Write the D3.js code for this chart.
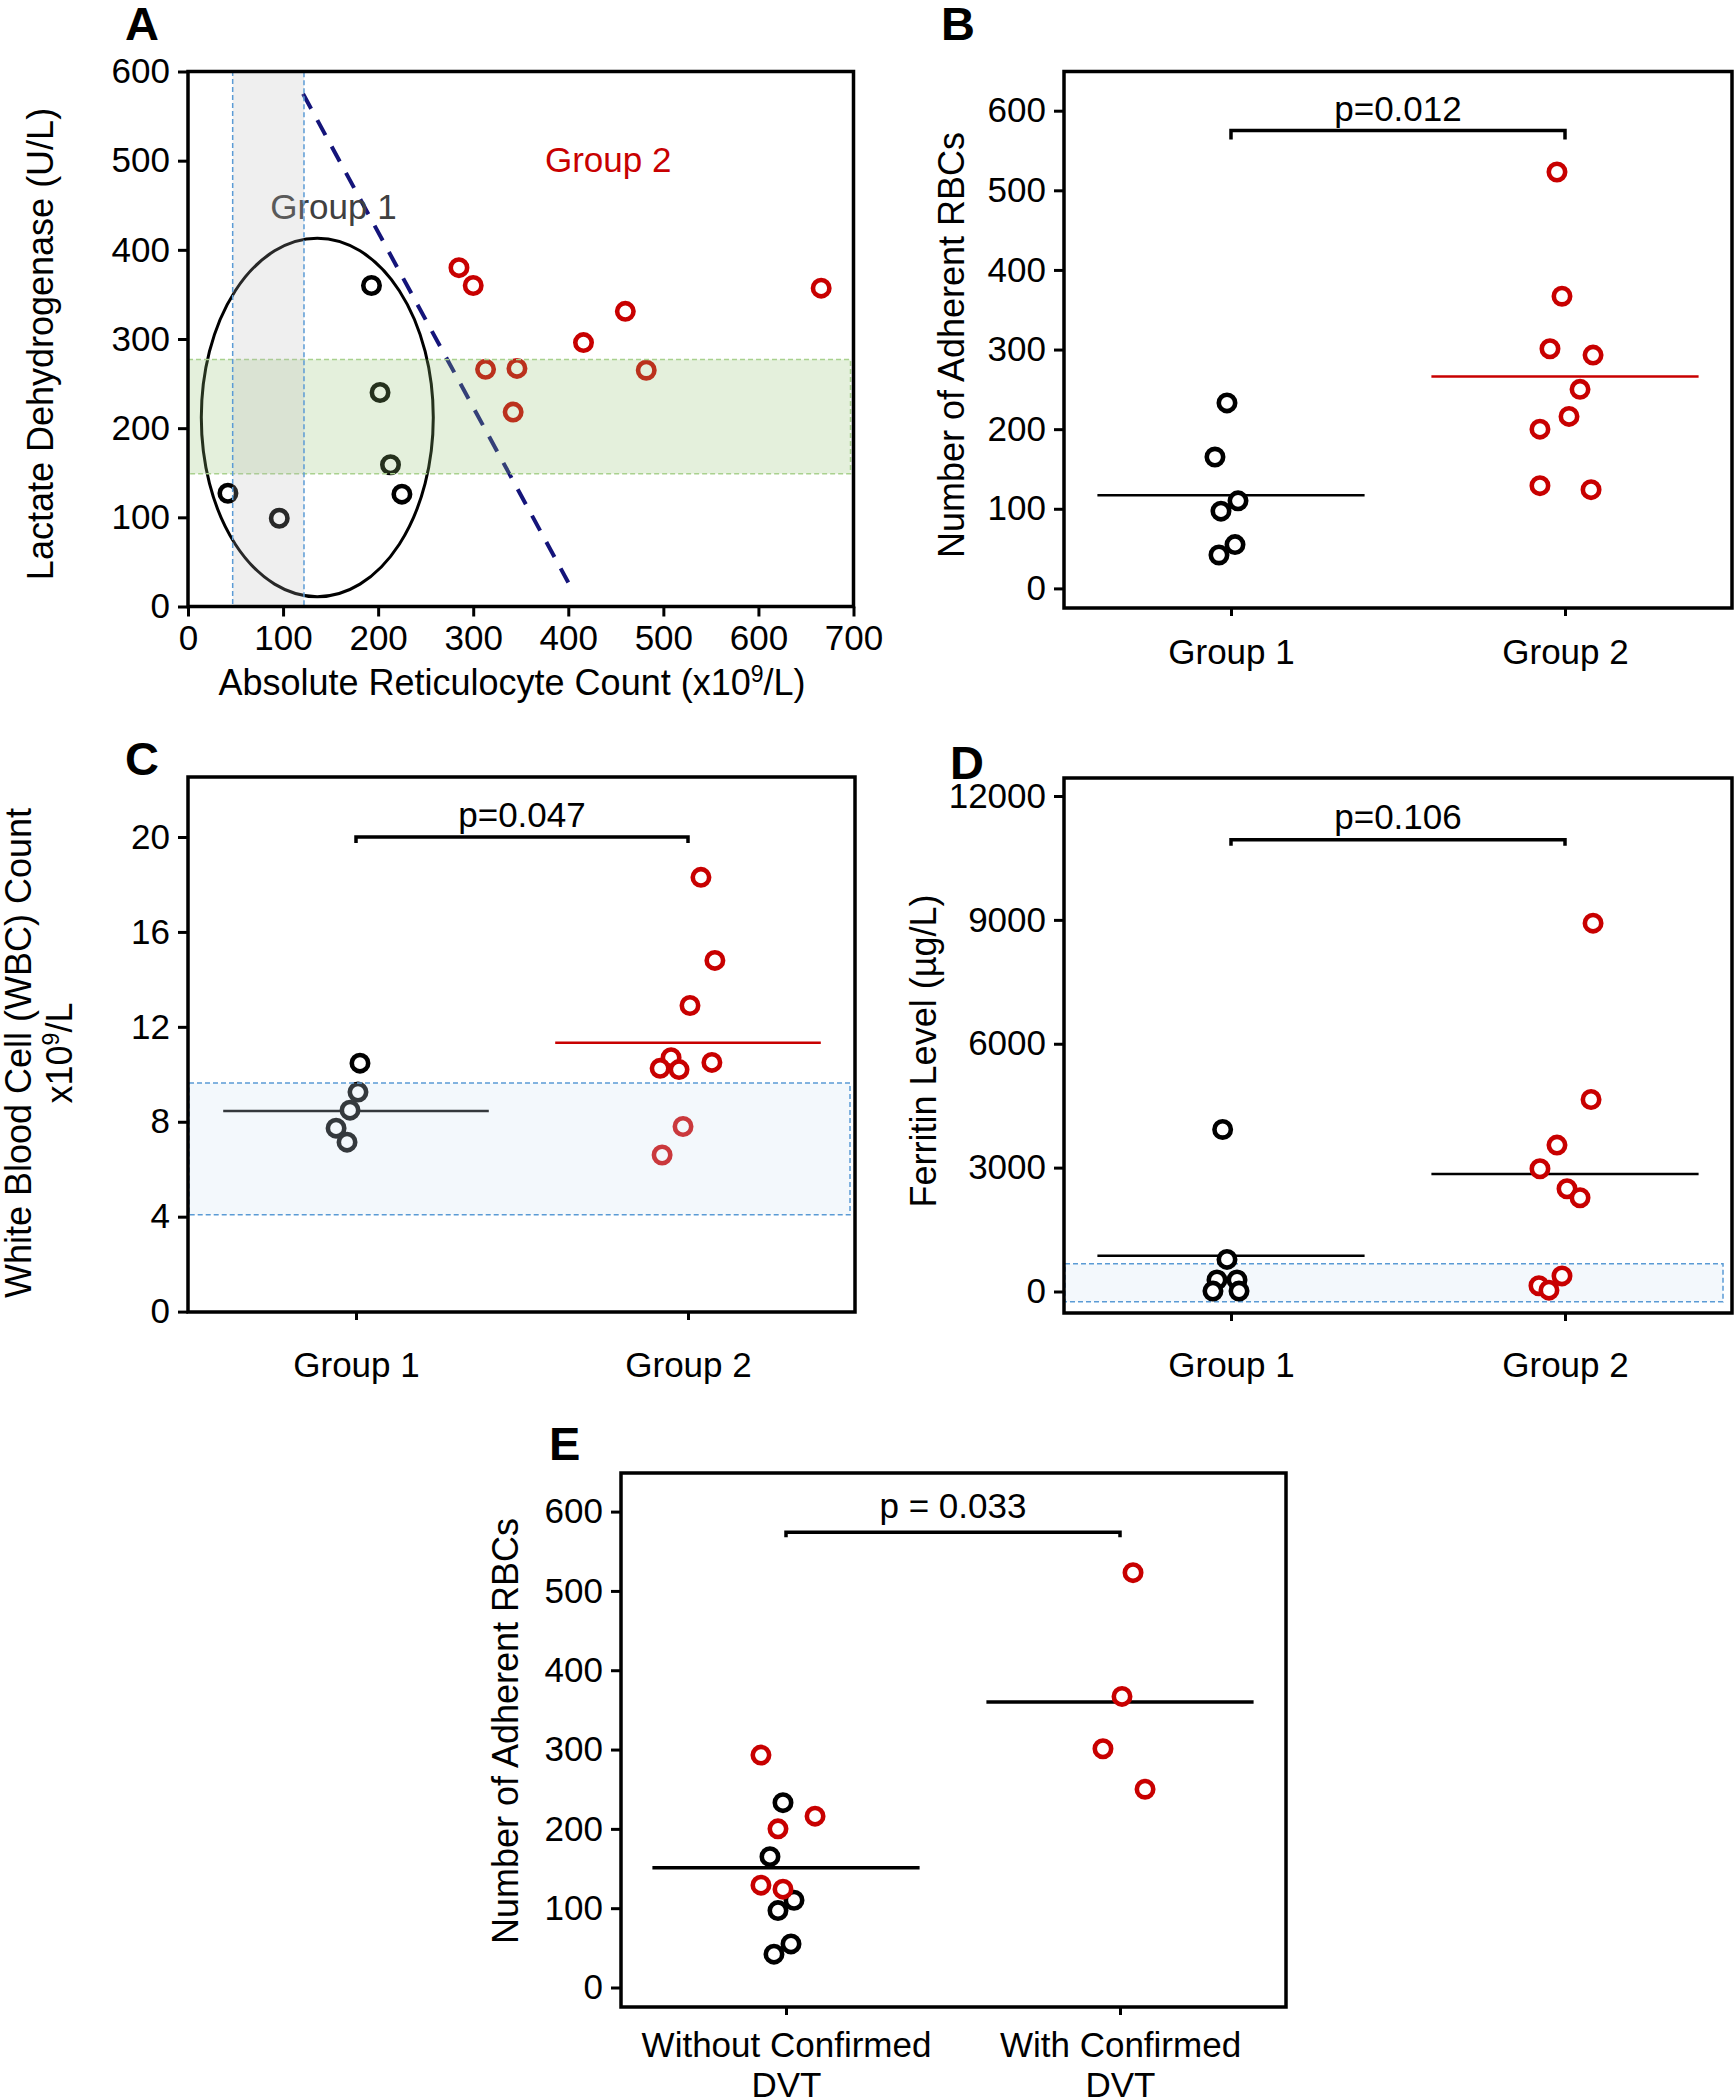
<!DOCTYPE html>
<html>
<head>
<meta charset="utf-8">
<script src="https://cdn.jsdelivr.net/npm/d3@7"></script>
<style>
  body { margin: 0; background: #fff; }
  text { font-family: "Liberation Sans", Arial, sans-serif; }
</style>
</head>
<body>
<svg id="fig"></svg>
<script>
// ---------- data ----------
// A: reticulocytes vs LDH
var aRetic1 = [42, 96, 193, 202, 213, 225];
var aLdh1 = [127, 99, 360, 240, 159, 126];
var aRetic2 = [285, 300, 313, 346, 342, 416, 460, 482, 666];
var aLdh2 = [380, 360, 266, 267, 218, 296, 331, 265, 357];
var aXTicks = [0, 100, 200, 300, 400, 500, 600, 700];
var aYTicks = [0, 100, 200, 300, 400, 500, 600];
var aReticRef = [47, 122];
var aLdhRef = [149, 277];
var aEllipse = [136, 212, 122, 201];          // cx, cy, rx, ry (data units)
var aCutoff = [[121, 575], [400, 27]];

var groups = ["Group 1", "Group 2"];

// B: adherent RBCs
var bAdh1 = [233, 165, 110, 97, 55, 42];
var bAdh1Jit = [-0.012, -0.048, 0.021, -0.03, 0.012, -0.036];
var bAdh2 = [523, 367, 301, 293, 250, 216, 200, 129, 124];
var bAdh2Jit = [-0.024, -0.009, -0.045, 0.084, 0.045, 0.012, -0.075, -0.075, 0.078];
var bMeans = [117, 266];
var bYTicks = [0, 100, 200, 300, 400, 500, 600];

// C: WBC
var cWbc1 = [10.47, 9.25, 8.49, 7.73, 7.14];
var cWbc1Jit = [0.012, 0.006, -0.018, -0.06, -0.027];
var cWbc2 = [18.3, 14.8, 12.9, 10.5, 10.7, 10.25, 10.2, 7.8, 6.6];
var cWbc2Jit = [0.039, 0.081, 0.006, 0.072, -0.051, -0.084, -0.027, -0.015, -0.078];
var cMeans = [8.45, 11.33];
var cYTicks = [0, 4, 8, 12, 16, 20];
var cRef = [4.08, 9.63];

// D: ferritin
var dFer1 = [3924, 778, 280, 280, 10, 10];
var dFer1Jit = [-0.025, -0.012, -0.042, 0.018, -0.054, 0.024];
var dFer2 = [8920, 4650, 3546, 2973, 2488, 2270, 378, 140, 32];
var dFer2Jit = [0.084, 0.078, -0.024, -0.075, 0.006, 0.045, -0.009, -0.078, -0.048];
var dMeans = [865, 2845];
var dYTicks = [0, 3000, 6000, 9000, 12000];
var dRef = [-250, 671];

// E: DVT
var eCats = [["Without Confirmed", "DVT"], ["With Confirmed", "DVT"]];
var eNoDvtG1 = [233, 165, 110, 97, 55, 42];
var eNoDvtG1Jit = [-0.009, -0.048, 0.024, -0.024, 0.015, -0.036];
var eNoDvtG2 = [293, 200, 216, 129, 124];
var eNoDvtG2Jit = [-0.075, -0.024, 0.087, -0.075, -0.009];
var eDvtG2 = [523, 367, 301, 250];
var eDvtG2Jit = [0.039, 0.006, -0.051, 0.075];
var eMeans = [151, 360];
var eYTicks = [0, 100, 200, 300, 400, 500, 600];

// ---------- drawing ----------
var RED = "#c80000";
var TICK_FS = 35, TITLE_FS = 36;
var svg = d3.select("#fig").attr("width", 1734).attr("height", 2100);
svg.append("rect").attr("width", 1734).attr("height", 2100).attr("fill", "#fff");

var styleAxis = function (g) {
    g.select(".domain").remove();
    g.selectAll(".tick line").attr("stroke", "#000").attr("stroke-width", 3);
    g.selectAll(".tick text").attr("font-size", TICK_FS).attr("fill", "#000")
        .style("font-family", '"Liberation Sans", Arial, sans-serif');
};

var letter = function (t, x, y) {
    svg.append("text").attr("x", x).attr("y", y).attr("font-size", 47)
        .attr("font-weight", "bold").text(t);
};

var yTitle = function (lines, bx, cy) {
    lines.forEach(function (ln, i) {
        var t = svg.append("text")
            .attr("transform", "translate(" + bx[i] + "," + cy + ") rotate(-90)")
            .attr("text-anchor", "middle").attr("font-size", TITLE_FS);
        ln.forEach(function (part) {
            var s = t.append("tspan").text(part[0]);
            if (part[1]) s.attr("baseline-shift", "super").attr("font-size", 23);
        });
    });
};

var frame = function (L, T, R, B) {
    svg.append("rect").attr("x", L).attr("y", T).attr("width", R - L).attr("height", B - T)
        .attr("fill", "none").attr("stroke", "#000").attr("stroke-width", 3.5);
};

var dot = function (sel, color) {
    sel.attr("r", 8.2).attr("fill", "#fff").attr("stroke", color).attr("stroke-width", 4.6);
};

// ---- Panel A ----
(function () {
    var L = 188, R = 853.5, T = 71.5, B = 606.5;
    var x = d3.scaleLinear().domain([0, 700]).range([L, R]);
    var y = d3.scaleLinear().domain([0, 600]).range([B, T]);
    var g = svg.append("g");

    g.append("ellipse")
        .attr("cx", x(aEllipse[0])).attr("cy", y(aEllipse[1]))
        .attr("rx", x(aEllipse[0] + aEllipse[2]) - x(aEllipse[0]))
        .attr("ry", y(aEllipse[1] - aEllipse[3]) - y(aEllipse[1]))
        .attr("fill", "none").attr("stroke", "#000").attr("stroke-width", 3);

    g.append("line")
        .attr("x1", x(aCutoff[0][0])).attr("y1", y(aCutoff[0][1]))
        .attr("x2", x(aCutoff[1][0])).attr("y2", y(aCutoff[1][1]))
        .attr("stroke", "#14147a").attr("stroke-width", 4).attr("stroke-dasharray", "17 13");

    g.selectAll(".p1").data(aRetic1).enter().append("circle")
        .attr("cx", function (d) { return x(d); })
        .attr("cy", function (d, i) { return y(aLdh1[i]); })
        .call(dot, "#000");
    g.selectAll(".p2").data(aRetic2).enter().append("circle")
        .attr("cx", function (d) { return x(d); })
        .attr("cy", function (d, i) { return y(aLdh2[i]); })
        .call(dot, RED);

    g.append("text").attr("x", x(153)).attr("y", y(435)).attr("text-anchor", "middle")
        .attr("font-size", TICK_FS).attr("fill", "#404040").text("Group 1");
    g.append("text").attr("x", x(442)).attr("y", y(487)).attr("text-anchor", "middle")
        .attr("font-size", TICK_FS).attr("fill", RED).text("Group 2");

    // reference ranges (semi-transparent overlays)
    g.append("rect").attr("x", L).attr("width", R - L - 3)
        .attr("y", y(aLdhRef[1])).attr("height", y(aLdhRef[0]) - y(aLdhRef[1]))
        .attr("fill", "#93c373").attr("fill-opacity", 0.25)
        .attr("stroke", "#a9d18e").attr("stroke-width", 1.5).attr("stroke-dasharray", "5 3");
    g.append("rect").attr("x", x(aReticRef[0])).attr("width", x(aReticRef[1]) - x(aReticRef[0]))
        .attr("y", T).attr("height", B - T)
        .attr("fill", "#b8b8b8").attr("fill-opacity", 0.22)
        .attr("stroke", "#5b9bd5").attr("stroke-width", 1.5).attr("stroke-dasharray", "5 3");

    svg.append("g").attr("transform", "translate(0," + B + ")")
        .call(d3.axisBottom(x).tickValues(aXTicks).tickSize(10).tickPadding(9))
        .call(styleAxis);
    svg.append("g").attr("transform", "translate(" + L + ",0)")
        .call(d3.axisLeft(y).tickValues(aYTicks).tickSize(10).tickPadding(8))
        .call(styleAxis);
    frame(L, T, R, B);

    svg.append("text").attr("x", 512).attr("y", 695).attr("text-anchor", "middle")
        .attr("font-size", TITLE_FS)
        .call(function (t) {
            t.append("tspan").text("Absolute Reticulocyte Count (x10");
            t.append("tspan").attr("baseline-shift", "super").attr("font-size", 23).text("9");
            t.append("tspan").text("/L)");
        });
    yTitle([[["Lactate Dehydrogenase (U/L)"]]], [53], 344);
    letter("A", 125, 40);
})();

// ---- dot-plot panels ----
var dotPanel = function (p) {
    var y = d3.scaleLinear().domain([0, p.yTicks[p.yTicks.length - 1]]).range(p.yRange);
    var x = d3.scaleLinear().domain([0, 1]).range(p.xRange);
    var g = svg.append("g");

    var band = function () {
        g.append("rect").attr("x", p.frame[0] + 1).attr("width", p.frame[2] - p.frame[0] - p.bandInset)
            .attr("y", y(p.band[1])).attr("height", y(p.band[0]) - y(p.band[1]))
            .attr("fill", "#cfe3f3").attr("fill-opacity", 0.25)
            .attr("stroke", "#5b9bd5").attr("stroke-width", 1.5).attr("stroke-dasharray", "5 3");
    };
    if (p.band && !p.bandOnTop) band();

    p.means.forEach(function (m, i) {
        g.append("line").attr("x1", x(i - 0.4)).attr("x2", x(i + 0.4))
            .attr("y1", y(m)).attr("y2", y(m))
            .attr("stroke", p.meanColors[i]).attr("stroke-width", p.meanWidth);
    });

    p.series.forEach(function (s) {
        g.selectAll(null).data(s.values).enter().append("circle")
            .attr("cx", function (d, i) { return x(s.cat + s.jitter[i]); })
            .attr("cy", function (d) { return y(d); })
            .call(dot, s.color);
    });

    if (p.band && p.bandOnTop) band();

    var ax = svg.append("g").attr("transform", "translate(0," + p.frame[3] + ")")
        .call(d3.axisBottom(x).tickValues([0, 1]).tickSize(8).tickPadding(p.xPad)
            .tickFormat(function (d) { return p.cats[d][0]; }))
        .call(styleAxis);
    ax.selectAll(".tick text").each(function (d) {
        var t = d3.select(this);
        t.text(null);
        p.cats[d].forEach(function (ln, k) {
            t.append("tspan").attr("x", 0).attr("dy", k ? "1.15em" : "0.71em").text(ln);
        });
    });
    svg.append("g").attr("transform", "translate(" + p.frame[0] + ",0)")
        .call(d3.axisLeft(y).tickValues(p.yTicks).tickSize(10).tickPadding(8).tickFormat(d3.format("d")))
        .call(styleAxis);
    frame(p.frame[0], p.frame[1], p.frame[2], p.frame[3]);

    // significance bracket
    var by = y(p.bracket[0]);
    svg.append("path")
        .attr("d", "M" + x(0) + "," + (by + p.bracket[2]) + "V" + by + "H" + x(1) + "V" + (by + p.bracket[2]))
        .attr("fill", "none").attr("stroke", "#000").attr("stroke-width", 3.5);
    svg.append("text").attr("x", (x(0) + x(1)) / 2).attr("y", by - p.bracket[3])
        .attr("text-anchor", "middle").attr("font-size", TICK_FS).text(p.bracket[1]);

    yTitle(p.title, p.titleX, p.titleY);
    letter(p.letter[0], p.letter[1], p.letter[2]);
};

dotPanel({
    frame: [1064, 71.5, 1732, 608], yRange: [588.4, 110.7], xRange: [1231, 1565],
    yTicks: bYTicks, cats: [[groups[0]], [groups[1]]], xPad: 23,
    means: bMeans, meanColors: ["#000", RED], meanWidth: 2.5,
    series: [
        { values: bAdh1, jitter: bAdh1Jit, cat: 0, color: "#000" },
        { values: bAdh2, jitter: bAdh2Jit, cat: 1, color: RED }
    ],
    bracket: [575, "p=0.012", 9, 10],
    title: [[["Number of Adherent RBCs"]]], titleX: [964], titleY: 345,
    letter: ["B", 941, 40]
});

dotPanel({
    frame: [188, 777, 855, 1312], yRange: [1311.6, 837], xRange: [356, 688],
    yTicks: cYTicks, cats: [[groups[0]], [groups[1]]], xPad: 32,
    means: cMeans, meanColors: ["#000", RED], meanWidth: 2.5,
    series: [
        { values: cWbc1, jitter: cWbc1Jit, cat: 0, color: "#000" },
        { values: cWbc2, jitter: cWbc2Jit, cat: 1, color: RED }
    ],
    band: cRef, bandInset: 6, bandOnTop: true,
    bracket: [20, "p=0.047", 6, 10],
    title: [[["White Blood Cell (WBC) Count"]], [["x10"], ["9", true], ["/L"]]],
    titleX: [31, 72], titleY: 1053,
    letter: ["C", 125, 775]
});

dotPanel({
    frame: [1064, 778, 1732, 1313], yRange: [1291.5, 796], xRange: [1231, 1565],
    yTicks: dYTicks, cats: [[groups[0]], [groups[1]]], xPad: 31,
    means: dMeans, meanColors: ["#000", "#000"], meanWidth: 2.5,
    series: [
        { values: dFer1, jitter: dFer1Jit, cat: 0, color: "#000" },
        { values: dFer2, jitter: dFer2Jit, cat: 1, color: RED }
    ],
    band: dRef, bandInset: 10, bandOnTop: false,
    bracket: [10940, "p=0.106", 6, 11],
    title: [[["Ferritin Level (\u00b5g/L)"]]], titleX: [936], titleY: 1051,
    letter: ["D", 950, 779]
});

dotPanel({
    frame: [621, 1473, 1286, 2007], yRange: [1987.5, 1511.6], xRange: [786, 1120],
    yTicks: eYTicks, cats: eCats, xPad: 17,
    means: eMeans, meanColors: ["#000", "#000"], meanWidth: 3.5,
    series: [
        { values: eNoDvtG1, jitter: eNoDvtG1Jit, cat: 0, color: "#000" },
        { values: eNoDvtG2, jitter: eNoDvtG2Jit, cat: 0, color: RED },
        { values: eDvtG2, jitter: eDvtG2Jit, cat: 1, color: RED }
    ],
    bracket: [574, "p = 0.033", 5, 14],
    title: [[["Number of Adherent RBCs"]]], titleX: [518], titleY: 1731,
    letter: ["E", 549, 1460]
});
</script>
</body>
</html>
